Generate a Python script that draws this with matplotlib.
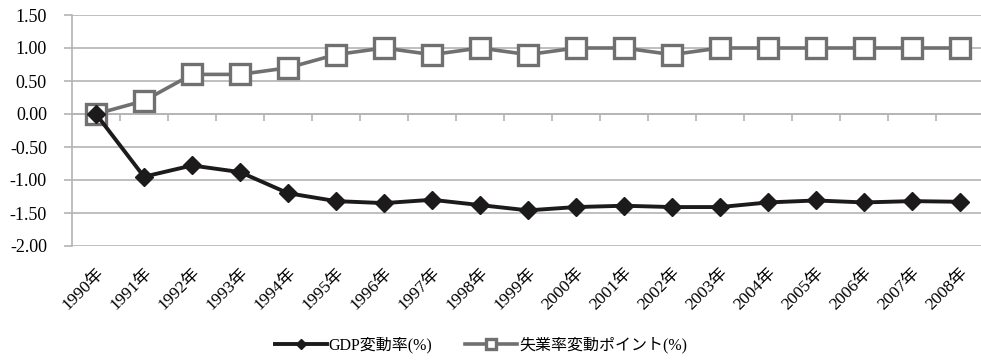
import matplotlib
matplotlib.use("Agg")
import matplotlib.pyplot as plt
import numpy as np

plt.rcParams['font.family'] = ['Liberation Serif', 'Noto Sans CJK JP']

years = ["1990年", "1991年", "1992年", "1993年", "1994年", "1995年", "1996年", "1997年",
         "1998年", "1999年", "2000年", "2001年", "2002年", "2003年", "2004年", "2005年",
         "2006年", "2007年", "2008年"]
gdp = [0.00, -0.95, -0.78, -0.88, -1.20, -1.32, -1.35, -1.30, -1.38, -1.46,
       -1.41, -1.39, -1.41, -1.41, -1.34, -1.31, -1.34, -1.32, -1.33]
unemp = [0.0, 0.2, 0.6, 0.6, 0.7, 0.9, 1.0, 0.9, 1.0, 0.9,
         1.0, 1.0, 0.9, 1.0, 1.0, 1.0, 1.0, 1.0, 1.0]
yticks = [1.5, 1.0, 0.5, 0.0, -0.5, -1.0, -1.5, -2.0]
labels = ["GDP変動率(%)", "失業率変動ポイント(%)"]

W, H = 981, 364
fig = plt.figure(figsize=(W / 100, H / 100), dpi=100)
ax = fig.add_axes([72 / W, 1 - 246 / H, (984 - 72) / W, (246 - 15) / H])

x = np.arange(len(years))
grid_c = "#b4b4b4"

for v in yticks:
    ax.axhline(v, color=grid_c, lw=1.2, zorder=1)

ax.plot(x, unemp, color="#707070", lw=2.6, marker="s", ms=14, mfc="white",
        mec="#707070", mew=2.4, zorder=3, label=labels[1])
ax.plot(x, gdp, color="#1c1a1a", lw=2.8, marker="D", ms=9, mfc="#1c1a1a",
        mec="#1c1a1a", zorder=4, label=labels[0])

ax.set_xlim(-0.5, len(years) - 0.5)
ax.set_ylim(-2.0, 1.5)
ax.set_yticks(yticks)
ax.set_yticklabels([f"{v:.2f}" for v in yticks], fontsize=13)
ax.tick_params(axis="y", length=6, color=grid_c, width=1.2, pad=12)

for s in ["top", "right"]:
    ax.spines[s].set_visible(False)
ax.spines["left"].set_color(grid_c)
ax.spines["left"].set_linewidth(1.2)
ax.spines["bottom"].set_position(("data", 0))
ax.spines["bottom"].set_color(grid_c)
ax.spines["bottom"].set_linewidth(1.2)

ax.set_xticks(np.arange(0.5, len(years) - 0.5, 1.0))
ax.set_xticklabels([])
ax.tick_params(axis="x", length=5, color=grid_c, width=1.2, direction="out")

sec = ax.secondary_xaxis("bottom")
sec.set_xticks(x)
sec.set_xticklabels(years, rotation=45, ha="right", va="top",
                    rotation_mode="anchor", fontsize=12.5)
sec.tick_params(length=0, pad=14)
sec.spines["bottom"].set_visible(False)

h, l = ax.get_legend_handles_labels()
fig.legend([h[1], h[0]], [l[1], l[0]], loc="center", ncol=2,
           bbox_to_anchor=(0.49, 1 - 345 / H), frameon=False, fontsize=11.5,
           handlelength=3.3, columnspacing=2.0, handletextpad=0.1,
           markerscale=0.55)

fig.savefig("out.png", dpi=100)
